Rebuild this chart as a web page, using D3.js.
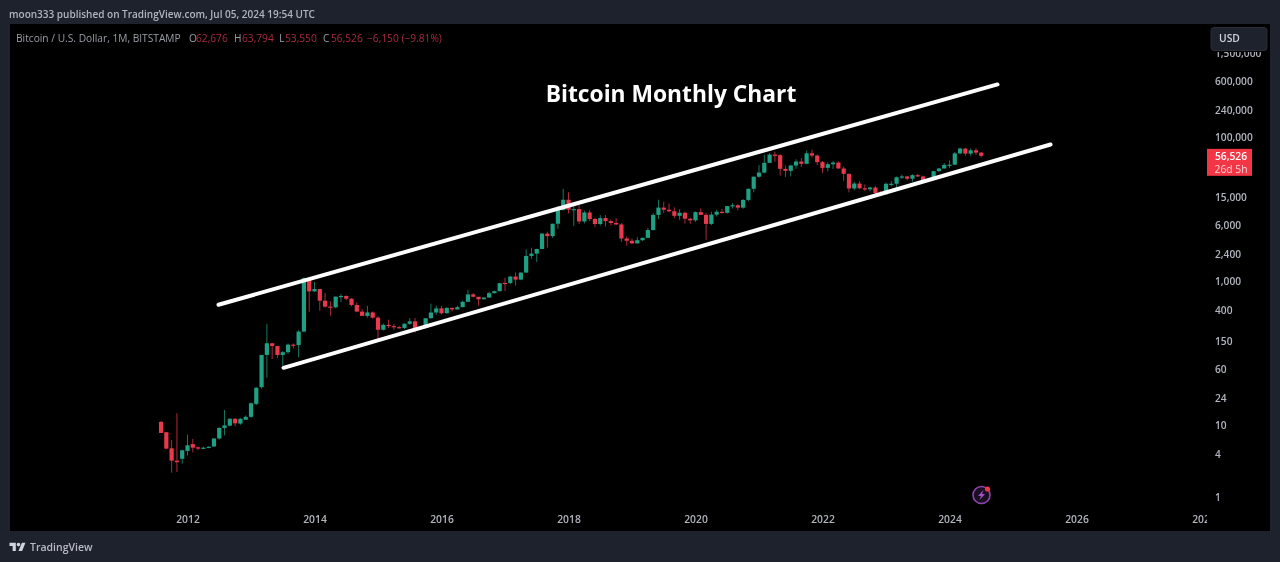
<!DOCTYPE html>
<html><head><meta charset="utf-8">
<script src="https://cdn.jsdelivr.net/npm/d3@7/dist/d3.min.js"></script>
<style>
html,body{margin:0;padding:0;background:#1e222d;overflow:hidden}
svg{display:block;filter:blur(0.35px)}
text{font-family:"Open Sans","Noto Sans",sans-serif}
</style></head><body>
<script>
const firstMonth = 2011 + 7/12; // Aug 2011
const opens = [11.4,8.2,4.9,3.3,3.5,
 4.5,5.6,5.05,4.9,5.0,5.2,6.7,9.4,10.1,12.6,10.8,12.2,
 13.4,20.3,34.6,97,141,129,97,106,135,133,205,1130,
 740,800,550,455,445,627,640,586,480,388,338,378,
 320,217,254,244,236,230,263,284,230,236,314,377,
 430,368,437,416,448,531,673,624,575,608,700,745,
 970,970,1190,1080,1350,2300,2480,2875,4700,4340,6440,9950,
 13880,10100,10300,6930,9240,7500,6390,7730,7010,6610,6300,4020,
 3740,3440,3810,4100,5270,8550,10800,10080,9600,8300,9150,7570,
 7190,9350,8550,6410,8620,9450,9140,11350,11650,10780,13800,19700,
 28990,33100,45200,58800,57700,37300,35000,41500,47100,43800,61300,57000,
 46200,38500,43200,45500,37700,31800,19900,23300,20050,19400,20500,17170,
 16540,23130,23150,28470,29250,27210,30470,29230,25940,26970,34650,37720,
 42280,42580,61180,71280,60650,67500,62676];
const highs = [11.8,8.3,6.4,15,4.7,
 7.6,6.6,5.2,5.2,5.2,6.8,9.6,16.7,12.8,12.9,12.9,14,
 21.2,34.6,97,263,141,130,110,140,140,214,1163,1163,
 1000,800,710,540,627,680,650,600,520,420,468,390,
 335,265,300,262,247,267,315,316,243,246,500,470,
 465,445,442,468,550,780,700,610,620,730,760,975,
 1150,1220,1360,1360,2840,2990,2900,4800,5000,6470,11400,19666,
 17600,11700,11700,9800,10000,7780,8500,8500,7400,7700,6570,4300,
 4000,4200,4150,5630,9000,13880,13100,12300,10900,10300,9500,7800,
 9550,10500,9150,9450,10000,10400,11400,12470,12050,14100,19880,29300,
 42000,58300,61800,64900,59600,41300,42400,50500,52900,67000,69000,59100,
 47900,45800,48200,47500,40000,31900,24700,25200,22700,21000,21500,18400,
 23950,25200,29200,31000,29800,31400,31800,30200,27500,35000,38400,45000,
 48900,64000,73800,72800,71900,71900,63794];
const lows = [8,4.8,2.25,2.3,3.0,
 3.9,4.3,4.6,4.75,4.9,5.1,6.5,7.4,9.9,9.9,10.4,12.1,
 13,19.5,33,47,85,88,68,100,120,90,200,386,
 730,400,440,340,430,525,560,460,380,360,320,310,
 158,212,230,217,226,222,254,198,225,225,310,350,
 355,365,390,416,443,525,610,470,570,605,690,740,
 750,930,890,1060,1340,2100,1900,2850,3000,4100,5500,10400,
 9000,6000,6400,6500,7000,5780,6100,5900,6100,6200,3600,3200,
 3350,3400,3700,4100,5200,7500,9100,9300,7700,7300,6500,6430,
 6850,8500,3850,6150,8100,8900,8900,10500,9900,10400,13200,17600,
 28100,32300,45000,47000,30000,28800,29300,37300,39600,43300,53300,42000,
 32900,34300,37100,37700,25400,17600,18800,19500,18200,18100,15500,16300,
 16500,21400,19600,26900,25800,24800,28900,25400,24900,26500,34100,37600,
 38500,41900,59100,56500,56500,58400,53550];
const closes = [8,4.85,3.3,3.15,4.6,
 5.4,5.0,4.85,5.0,5.15,6.7,9.4,10.2,12.6,10.9,12.6,13.4,
 20.7,34,97,141,129,97,106,135,133,205,1130,740,
 800,550,455,445,627,640,586,480,388,338,378,320,
 217,254,244,236,230,263,284,230,236,314,377,430,
 368,437,416,448,531,673,624,575,608,700,745,963,
 960,1190,1080,1350,2300,2480,2875,4700,4340,6440,9950,13880,
 10100,10300,6930,9240,7500,6390,7730,7010,6610,6300,4020,3740,
 3440,3810,4100,5270,8550,10800,10080,9600,8300,9150,7570,7190,
 9350,8550,6410,8620,9450,9140,11350,11650,10780,13800,19700,28990,
 33100,45200,58800,57700,37300,35000,41500,47100,43800,61300,57000,46200,
 38500,43200,45500,37700,31800,19900,23300,20050,19400,20500,17170,16540,
 23130,23150,28470,29250,27210,30470,29230,25940,26970,34650,37720,42280,
 42580,61180,71280,60650,67500,62680,56526];
const yearTicks = [2012,2014,2016,2018,2020,2022,2024,2026,2028];
const priceTicks = [1,4,10,24,60,150,400,1000,2400,6000,15000,100000,240000,600000,1500000];
const upperChannelYears = [2012.488,2024.756];
const upperChannelPrices = [483,554800];
const lowerChannelYears = [2013.512,2025.591];
const lowerChannelPrices = [64.3,81200];
const headerText = "moon333 published on TradingView.com, Jul 05, 2024 19:54 UTC";
const titleText = "Bitcoin Monthly Chart";
const legendLabels = ["Bitcoin / U.S. Dollar, 1M, BITSTAMP","O","62,676","H","63,794","L","53,550","C","56,526","−6,150 (−9.81%)"];

const W=1280,H=562;
const svg=d3.select("body").append("svg").attr("width",W).attr("height",H);
const x=d3.scaleLinear().domain([2012,2026]).range([187.5,1076.5]);
const y=d3.scaleLog().domain([1,100000]).range([498,138]);
const UP="#1f9f83",DOWN="#e8394d",TICK="#b2b5be";

svg.append("rect").attr("width",W).attr("height",H).attr("fill","#1e222d");
svg.append("rect").attr("x",10).attr("y",24).attr("width",1260).attr("height",507).attr("fill","#000");
const defs=svg.append("defs");
defs.append("clipPath").attr("id","xclip").append("rect").attr("x",10).attr("y",500).attr("width",1197).attr("height",31);
defs.append("clipPath").attr("id","yclip").append("rect").attr("x",1200).attr("y",52).attr("width",70).attr("height",478);

// candles
const candles=opens.map((o,i)=>({t:firstMonth+i/12,o,h:highs[i],l:lows[i],c:closes[i]}));
const g=svg.append("g");
const col=d=>d.c>=d.o?UP:DOWN;
g.selectAll("line.w").data(candles).join("line").attr("class","w")
 .attr("x1",d=>x(d.t)).attr("x2",d=>x(d.t)).attr("y1",d=>y(d.h)).attr("y2",d=>y(d.l))
 .attr("stroke",col).attr("stroke-width",1).attr("opacity",.75);
g.selectAll("rect").data(candles).join("rect")
 .attr("x",d=>x(d.t)-2.1).attr("width",4.2)
 .attr("y",d=>y(Math.max(d.o,d.c))).attr("height",d=>Math.max(1.2,Math.abs(y(d.o)-y(d.c))))
 .attr("fill",col);

// channel
[[upperChannelYears,upperChannelPrices],[lowerChannelYears,lowerChannelPrices]].forEach(([a,b])=>{
 svg.append("line").attr("x1",x(a[0])).attr("y1",y(b[0])).attr("x2",x(a[1])).attr("y2",y(b[1]))
  .attr("stroke","#fff").attr("stroke-width",4).attr("stroke-linecap","round");
});

// axes
const xAxisG=svg.append("g").attr("clip-path","url(#xclip)").append("g").attr("transform","translate(0,516)")
 .call(d3.axisBottom(x).tickValues(yearTicks).tickFormat(d3.format("d")).tickSize(0).tickPadding(0));
xAxisG.select(".domain").remove();
xAxisG.selectAll("text").attr("fill",TICK).attr("font-size",10.3).attr("font-weight",600).style("font-family",'"Open Sans",sans-serif');
const yAxisG=svg.append("g").attr("clip-path","url(#yclip)").append("g").attr("transform","translate(1215,-0.5)")
 .call(d3.axisRight(y).tickValues(priceTicks).tickFormat(d3.format(",")).tickSize(0).tickPadding(0));
yAxisG.select(".domain").remove();
yAxisG.selectAll("text").attr("fill",TICK).attr("font-size",10.2).attr("font-weight",600).style("font-family",'"Open Sans",sans-serif');

// last price tag
svg.append("rect").attr("x",1207).attr("y",y(closes[closes.length-1])-7).attr("width",45).attr("height",27).attr("fill","#f23645");
svg.append("text").attr("x",1231).attr("y",160).attr("text-anchor","middle").attr("fill","#fff").attr("font-size",10.3).attr("font-weight",600).text(d3.format(",")(closes[closes.length-1]));
svg.append("text").attr("x",1231).attr("y",172.5).attr("text-anchor","middle").attr("fill","#fbd5d9").attr("font-size",10.3).text("26d 5h");

// USD button
svg.append("rect").attr("x",1211).attr("y",27.5).attr("width",56).attr("height",23).attr("rx",3).attr("fill","#1e222d").attr("stroke","#2a2e39");
svg.append("text").attr("x",1219).attr("y",42).attr("fill","#d1d4dc").attr("font-size",10.3).attr("font-weight",600).text("USD");

// header, legend, title
svg.append("text").attr("x",9).attr("y",18).attr("fill","#b2b5be").attr("font-size",10).attr("font-weight",600).text(headerText);
const legendX=[16,189,196,234,242,279,285,323,331,367];
const legendColors=["#9a9da6","#9a9da6","#a82b40","#9a9da6","#a82b40","#9a9da6","#a82b40","#9a9da6","#a82b40","#a82b40"];
svg.append("g").selectAll("text").data(legendLabels).join("text")
 .attr("x",(d,i)=>legendX[i]).attr("y",41.5).attr("font-size",10.2).attr("fill",(d,i)=>legendColors[i]).text(d=>d);
svg.append("text").attr("x",671).attr("y",102).attr("text-anchor","middle").attr("fill","#fff").attr("font-size",22.8).attr("font-weight",700).text(titleText);

// lightning icon
const ic=svg.append("g").attr("transform","translate(981.5,495)");
ic.append("circle").attr("r",8.5).attr("fill","#1a0f22").attr("stroke","#8e44ad").attr("stroke-width",1.6);
ic.append("path").attr("d","M2,-5 L-3.5,1 L-0.5,1 L-2,5 L3.5,-1 L0.5,-1 Z").attr("fill","#a64fc7");
ic.append("circle").attr("cx",6).attr("cy",-6).attr("r",2.6).attr("fill","#f23645");

// footer logo
svg.append("g").attr("transform","translate(9.5,541) scale(.45)").append("path")
 .attr("d","M14 22H7V11H0V4h14v18zM28 22h-8l7.5-18h8L28 22z").attr("fill","#d1d4dc");
svg.append("circle").attr("cx",9.5+20*.45).attr("cy",541+8*.45).attr("r",1.8).attr("fill","#d1d4dc");
svg.append("text").attr("x",30).attr("y",551).attr("fill","#b8bbc4").attr("font-size",10.5).attr("font-weight",600).text("TradingView");
</script>
</body></html>
